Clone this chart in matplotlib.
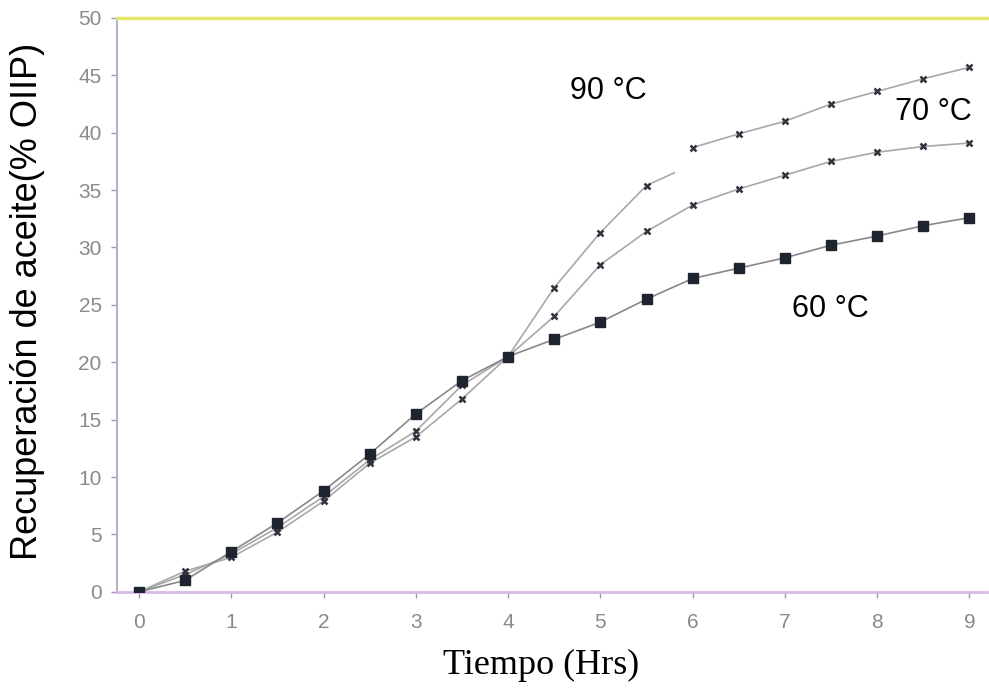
import matplotlib.pyplot as plt
import numpy as np

# tiempo (Hrs)
t = [0, 0.5, 1, 1.5, 2, 2.5, 3, 3.5, 4, 4.5, 5, 5.5, 6, 6.5, 7, 7.5, 8, 8.5, 9]

rec_60 = [0, 1.0, 3.5, 6.0, 8.8, 12.0, 15.5, 18.4, 20.5, 22.0, 23.5, 25.5,
          27.3, 28.2, 29.1, 30.2, 31.0, 31.9, 32.6]
rec_70 = [0, 1.5, 3.3, 5.6, 8.3, 11.5, 14.0, 18.0, 20.5, 24.0, 28.5, 31.4,
          33.7, 35.1, 36.3, 37.5, 38.3, 38.8, 39.1]
# 90 C: first part up to 5.5 h, then the upper segment from 6 h
t_90a = [0, 0.5, 1, 1.5, 2, 2.5, 3, 3.5, 4, 4.5, 5, 5.5, 5.8]
rec_90a = [0, 1.8, 3.0, 5.2, 7.9, 11.2, 13.5, 16.8, 20.5, 26.5, 31.3, 35.4, 36.5]
t_90b = [6, 6.5, 7, 7.5, 8, 8.5, 9]
rec_90b = [38.7, 39.9, 41.0, 42.5, 43.6, 44.7, 45.7]

labels = ["90 °C", "70 °C", "60 °C"]
label_pos = [(4.67, 43.6), (8.19, 41.8), (7.08, 24.6)]

fig = plt.figure(figsize=(9.89, 6.89), dpi=100)
ax = fig.add_axes([0.1183, 0.141, 0.8797, 0.833])

line_c = "#a8a8a8"
mk = dict(marker="x", ms=5, mew=1.8, mec="#333340")
ax.plot(t, rec_70, color=line_c, lw=1.2, zorder=2, **mk)
ax.plot(t_90a[:-1], rec_90a[:-1], color=line_c, lw=1.2, zorder=2, **mk)
ax.plot(t_90a[-2:], rec_90a[-2:], color=line_c, lw=1.2, zorder=1)
ax.plot(t_90b, rec_90b, color=line_c, lw=1.2, zorder=2, **mk)
ax.plot(t, rec_60, color="#888888", lw=1.2, marker="s", ms=7, mfc="#1e2430", mec="#1e2430", zorder=3)

for lab, (x, y) in zip(labels, label_pos):
    ax.text(x, y, lab, family="Liberation Sans", fontsize=22, ha="left", va="center")

ax.set_xlim(-0.238, 9.19)
ax.set_ylim(0, 50)
ax.set_xticks(range(0, 10))
ax.set_yticks(range(0, 51, 5))

ax.spines["right"].set_visible(False)
ax.spines["top"].set_color("#e4e46a")
ax.spines["top"].set_linewidth(2.5)
ax.spines["bottom"].set_color("#d8b8e8")
ax.spines["bottom"].set_linewidth(2)
ax.spines["left"].set_color("#b8b0cc")
ax.spines["left"].set_linewidth(1.5)

ax.tick_params(direction="out", length=4, width=1, colors="#9a9ab0",
               labelcolor="#8a8a8a", labelsize=15)
ax.tick_params(axis="x", pad=11)
ax.tick_params(axis="y", pad=7)
for lbl in ax.get_xticklabels() + ax.get_yticklabels():
    lbl.set_family("Liberation Sans")

fig.text(541 / 989, 1 - 665 / 689, "Tiempo (Hrs)", family="Liberation Serif",
         fontsize=26, ha="center", va="center")
fig.text(28 / 989, 1 - 301 / 689, "Recuperación de aceite(% OIIP)", family="Liberation Sans",
         fontsize=26, rotation=90, ha="center", va="center")

fig.savefig("out.png", dpi=100)
